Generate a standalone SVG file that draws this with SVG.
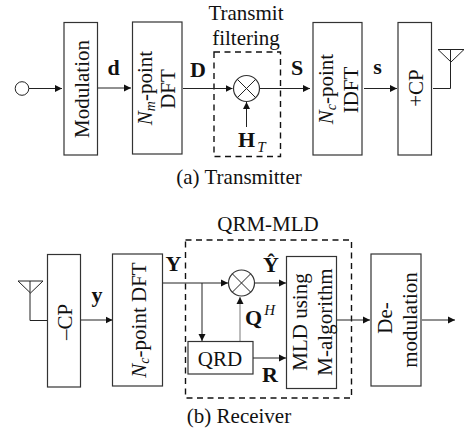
<svg xmlns="http://www.w3.org/2000/svg" width="465" height="432" viewBox="0 0 465 432">
<defs><marker id="a" markerUnits="userSpaceOnUse" markerWidth="8" markerHeight="8" refX="7" refY="4" orient="auto"><path d="M0,0.500L7,4L0,7.500Z" fill="#111"/></marker></defs>
<style>
.b{fill:#fff;stroke:#333;stroke-width:1.2}
.l{fill:none;stroke:#222;stroke-width:1}
.d{fill:none;stroke:#111;stroke-width:1.4;stroke-dasharray:6 4.500}
.t{font-family:"Liberation Serif","Times New Roman",serif;font-size:21px;fill:#111}
.m{text-anchor:middle}
.bd{font-weight:bold;font-size:22px}
.i{font-style:italic}
</style>
<rect width="465" height="432" fill="#fff"/>
<g id="regions"><rect class="d" x="214" y="52" width="66.500" height="104.500"/><rect class="d" x="185.500" y="240" width="166" height="158"/></g>
<g id="connectors">
<path class="l" marker-end="url(#a)" d="M29,88.500H62"/>
<path class="l" marker-end="url(#a)" d="M97.500,88H131"/>
<path class="l" marker-end="url(#a)" d="M183,88.500H232.500"/>
<path class="l" marker-end="url(#a)" d="M259.500,88.500H310"/>
<path class="l" marker-end="url(#a)" d="M246.500,127V102"/>
<path class="l" marker-end="url(#a)" d="M364,88.500H397"/>
<path class="l" d="M433,88.500H450.500V49.500"/>
<path class="l" d="M47,320.500H30V281"/>
<path class="l" marker-end="url(#a)" d="M81,320H112.500"/>
<path class="l" marker-end="url(#a)" d="M163,283H228"/>
<path class="l" marker-end="url(#a)" d="M202,283V341"/>
<path class="l" marker-end="url(#a)" d="M240,341V297" stroke-opacity=".6"/>
<path class="l" marker-end="url(#a)" d="M254.500,283H286"/>
<path class="l" marker-end="url(#a)" d="M253,358H286"/>
<path class="l" marker-end="url(#a)" d="M337,320H370"/>
<path class="l" marker-end="url(#a)" d="M422,320H455"/>
</g>
<g id="source"><circle class="l" cx="22" cy="88.500" r="6.800"/></g>
<g id="modulation"><rect class="b" x="64" y="22.500" width="33.500" height="132.500"/><text class="t m" transform="translate(89,89) rotate(-90)">Modulation</text></g>
<g id="nm-dft"><rect class="b" x="132.500" y="22" width="49.500" height="132"/><text class="t m" transform="translate(152,88) rotate(-90)"><tspan class="i">N</tspan><tspan class="i" font-size="14" dy="3">m</tspan><tspan dy="-3">-point</tspan></text><text class="t m" transform="translate(175,89) rotate(-90)">DFT</text></g>
<g id="filter"><circle class="b" cx="246.500" cy="88.500" r="13"/><path class="l" d="M237.300,79.300L255.700,97.700M255.700,79.300L237.300,97.700"/></g>
<g id="nc-idft"><rect class="b" x="313" y="22.500" width="49" height="132.500"/><text class="t m" transform="translate(333,89) rotate(-90)"><tspan class="i">N</tspan><tspan class="i" font-size="14" dy="3">c</tspan><tspan dy="-3">-point</tspan></text><text class="t m" transform="translate(358,90) rotate(-90)">IDFT</text></g>
<g id="add-cp"><rect class="b" x="398" y="22.500" width="33.500" height="132.500"/><text class="t m" transform="translate(423,88) rotate(-90)">+CP</text></g>
<g id="tx-antenna"><path class="l" d="M438,49.500H464L451,62Z"/></g>
<g id="rx-antenna"><path class="l" d="M18,281H43L30.500,293Z"/></g>
<g id="remove-cp"><rect class="b" x="47.500" y="254.500" width="33" height="132.500"/><text class="t m" transform="translate(72,322) rotate(-90)">–CP</text></g>
<g id="nc-dft"><rect class="b" x="112.500" y="254" width="50" height="132"/><text class="t m" transform="translate(146,320) rotate(-90)"><tspan class="i">N</tspan><tspan class="i" font-size="14" dy="3">c</tspan><tspan dy="-3">-point DFT</tspan></text></g>
<g id="combiner"><circle class="b" cx="241.500" cy="283" r="13"/><path class="l" d="M232.300,273.800L250.700,292.200M250.700,273.800L232.300,292.200"/></g>
<g id="qrd"><rect class="b" x="188" y="341.500" width="65" height="32.500"/><text class="t m" x="220" y="366">QRD</text></g>
<g id="mld"><rect class="b" x="286.500" y="256.500" width="50" height="132"/><text class="t m" transform="translate(307,322) rotate(-90)">MLD using</text><text class="t m" transform="translate(332,322) rotate(-90)">M-algorithm</text></g>
<g id="demod"><rect class="b" x="371" y="254" width="50" height="132"/><text class="t m" transform="translate(392,318) rotate(-90)">De-</text><text class="t m" transform="translate(417,320) rotate(-90)">modulation</text></g>
<g id="labels">
<text class="t m" x="246" y="20">Transmit</text>
<text class="t m" x="246" y="45">filtering</text>
<text class="t bd m" x="113.500" y="75">d</text>
<text class="t bd m" x="198" y="77">D</text>
<text class="t bd m" x="297" y="75">S</text>
<text class="t bd m" x="377.500" y="74">s</text>
<text class="t bd" x="238" y="147">H<tspan class="i" font-size="15" font-weight="normal" dx="2" dy="5">T</tspan></text>
<text class="t m" x="239" y="184">(a) Transmitter</text>
<text class="t m" x="268" y="231">QRM-MLD</text>
<text class="t bd m" x="97" y="302">y</text>
<text class="t bd m" x="173.500" y="271">Y</text>
<text class="t bd m" x="271" y="272">Ŷ</text>
<text class="t bd" x="245" y="325">Q<tspan class="i" font-size="15" font-weight="normal" dx="2" dy="-10">H</tspan></text>
<text class="t bd m" x="270" y="382">R</text>
<text class="t m" x="239" y="423">(b) Receiver</text>
</g>
</svg>
